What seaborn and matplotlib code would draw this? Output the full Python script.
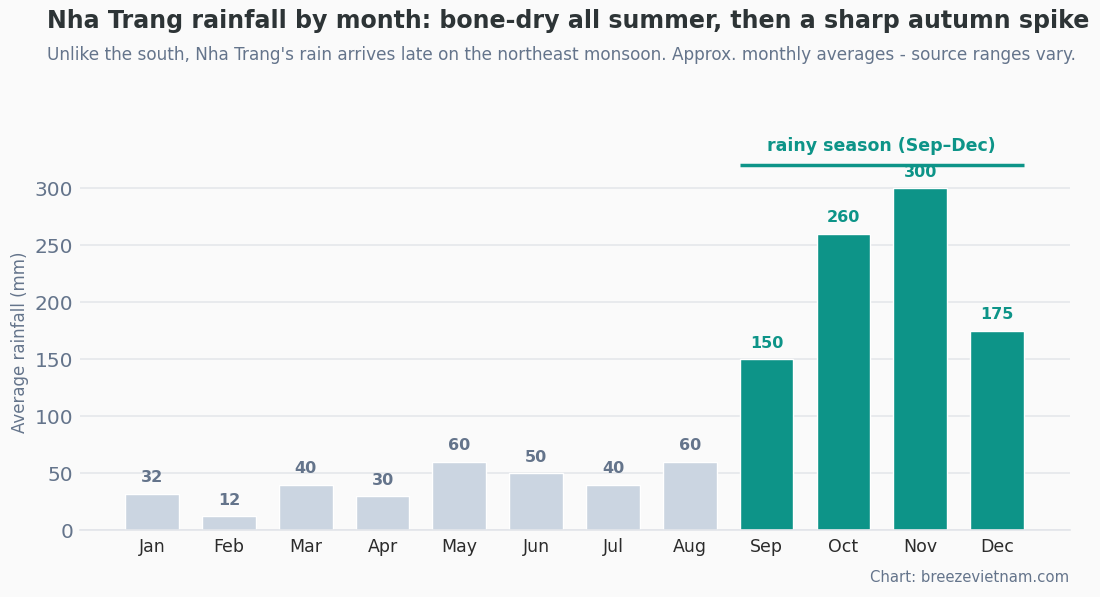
import pandas as pd
import numpy as np
import seaborn as sns
import matplotlib.pyplot as plt

# approx monthly rainfall, Nha Trang (mm)
months = ['Jan', 'Feb', 'Mar', 'Apr', 'May', 'Jun', 'Jul', 'Aug', 'Sep', 'Oct', 'Nov', 'Dec']
rain_mm = [32, 12, 40, 30, 60, 50, 40, 60, 150, 260, 300, 175]
rainy = [False] * 8 + [True] * 4

TEAL = '#0d9488'
GREY_BAR = '#cbd5e1'
SLATE = '#64748b'
BG = '#fafafa'

df = pd.DataFrame({'month': months, 'rain': rain_mm, 'season': ['rainy' if r else 'dry' for r in rainy]})

sns.set_theme(style='whitegrid')
plt.rcParams['font.family'] = ['DejaVu Sans']

fig = plt.figure(figsize=(11, 5.97), dpi=100, facecolor=BG)
ax = fig.add_axes([0.0727, 0.112, 0.9, 0.63])
ax.set_facecolor(BG)

sns.barplot(data=df, x='month', y='rain', hue='season', order=months,
            palette={'dry': GREY_BAR, 'rainy': TEAL}, width=0.7, dodge=False,
            legend=False, saturation=1, ax=ax)

# value labels
for i, (v, r) in enumerate(zip(rain_mm, rainy)):
    ax.annotate(str(v), (i, v), xytext=(0, 6), textcoords='offset points',
                ha='center', va='bottom', fontsize=11.5, fontweight='bold',
                color=TEAL if r else SLATE)

ax.set_xlim(-0.94, 11.95)
ax.set_ylim(0, 330)
ax.set_yticks([0, 50, 100, 150, 200, 250, 300])
ax.grid(axis='y', color='#e5e7eb', linewidth=1.2)
ax.grid(axis='x', visible=False)
ax.set_axisbelow(True)
for s in ['top', 'right', 'left']:
    ax.spines[s].set_visible(False)
ax.spines['bottom'].set_color('#e2e5ea')
ax.spines['bottom'].set_linewidth(1.2)

ax.tick_params(axis='y', labelsize=14.5, colors=SLATE, length=0, pad=5)
ax.tick_params(axis='x', labelsize=12.5, labelcolor='#2b2b2b', length=0, pad=6)
ax.set_xlabel('')
ax.set_ylabel('Average rainfall (mm)', fontsize=12, color=SLATE, labelpad=4)

# rainy season bracket
first = rainy.index(True)
last = len(rainy) - 1
ax.plot([first - 0.35, last + 0.35], [320, 320], color=TEAL, lw=2.5, clip_on=False,
        solid_capstyle='butt')
ax.text((first + last) / 2, 337, 'rainy season (Sep\u2013Dec)', ha='center', va='center',
        fontsize=12.5, fontweight='bold', color=TEAL, clip_on=False)

fig.text(0.043, 0.965, 'Nha Trang rainfall by month: bone-dry all summer, then a sharp autumn spike',
         fontsize=17.1, fontweight='bold', color='#2d3436', ha='left', va='center')
fig.text(0.043, 0.908, "Unlike the south, Nha Trang's rain arrives late on the northeast monsoon. "
         "Approx. monthly averages - source ranges vary.",
         fontsize=12.2, color=SLATE, ha='left', va='center')
fig.text(0.972, 0.032, 'Chart: breezevietnam.com', fontsize=10.7, color=SLATE,
         ha='right', va='center')

fig.savefig('out.png', dpi=100, facecolor=BG)
